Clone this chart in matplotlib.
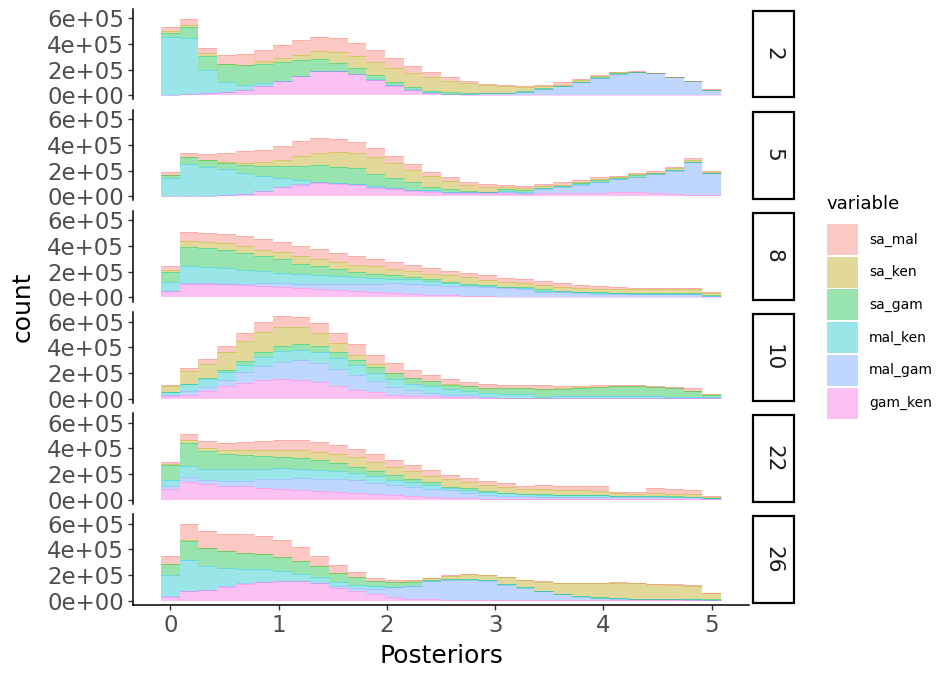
import matplotlib
matplotlib.use("Agg")
import matplotlib.pyplot as plt
from matplotlib.patches import Rectangle
import numpy as np

# bins: 30 bins centred on 0 .. 5 (ggplot default bins=30)
n_bins = 30
x_min, x_max = 0.0, 5.0

facets = ["2", "5", "8", "10", "22", "26"]
variables = ["sa_mal", "sa_ken", "sa_gam", "mal_ken", "mal_gam", "gam_ken"]
colors = {"sa_mal": "#F8766D", "sa_ken": "#B79F00", "sa_gam": "#00BA38",
          "mal_ken": "#00BFC4", "mal_gam": "#619CFF", "gam_ken": "#F564E3"}

# counts per bin, in units of 1e5
panel_2 = {
    "gam_ken": [0.03, 0.08, 0.16, 0.23, 0.39, 0.70, 1.09, 1.48, 1.87, 1.87, 1.64, 1.17, 0.75, 0.39, 0.21, 0.08, 0.03, 0.01, 0.02, 0.02, 0.02, 0.02, 0.02, 0.02, 0.02, 0.02, 0.02, 0.02, 0.02, 0.02],
    "mal_gam": [0, 0, 0, 0, 0, 0.03, 0.03, 0.05, 0.03, 0, 0.03, 0.03, 0.03, 0.03, 0, 0.03, 0.05, 0.13, 0.16, 0.20, 0.47, 0.70, 1.01, 1.32, 1.64, 1.77, 1.69, 1.40, 1.06, 0.36],
    "mal_ken": [4.49, 4.36, 1.79, 0.81, 0.42, 0.21, 0, 0, 0, 0, 0, 0.08, 0.03, 0.05, 0.08, 0, 0.03, 0.03, 0.03, 0.03, 0.03, 0.02, 0.03, 0, 0, 0, 0, 0.03, 0.03, 0.03],
    "sa_gam": [0.34, 0.88, 1.14, 1.38, 1.53, 1.48, 1.45, 1.19, 0.91, 0.65, 0.47, 0.29, 0.23, 0.16, 0.05, 0.13, 0.05, 0, 0, 0.10, 0.03, 0, 0, 0.05, 0.05, 0, 0.05, 0, 0, 0],
    "sa_ken": [0.15, 0.18, 0.18, 0.02, 0.03, 0.29, 0.34, 0.44, 0.62, 0.83, 0.94, 1.04, 1.12, 1.12, 1.09, 0.91, 0.78, 0.65, 0.52, 0.31, 0.18, 0.08, 0.13, 0.10, 0.08, 0.05, 0, 0, 0, 0],
    "sa_mal": [0.31, 0.44, 0.42, 0.73, 0.86, 0.83, 1.01, 1.14, 1.12, 1.12, 1.01, 0.94, 0.78, 0.55, 0.39, 0.29, 0.18, 0.08, 0.10, 0.05, 0.10, 0.23, 0.10, 0.10, 0.05, 0.08, 0, 0, 0, 0.08],
}
panel_5 = {
    "gam_ken": [0.02, 0.02, 0.02, 0.08, 0.21, 0.44, 0.75, 0.91, 1.04, 0.96, 0.91, 0.68, 0.60, 0.44, 0.36, 0.29, 0.29, 0.29, 0.29, 0.21, 0.26, 0.26, 0.29, 0.29, 0.36, 0.36, 0.29, 0.21, 0.13, 0.10],
    "mal_gam": [0, 0, 0, 0, 0, 0, 0, 0.05, 0.08, 0.05, 0.05, 0.08, 0.03, 0.02, 0.03, 0.02, 0.03, 0.05, 0.08, 0.08, 0.34, 0.49, 0.62, 0.83, 0.96, 1.14, 1.48, 1.79, 2.55, 1.69],
    "mal_ken": [1.38, 2.49, 2.29, 2.05, 1.58, 1.12, 0.68, 0.34, 0, 0, 0, 0.03, 0.03, 0.02, 0.10, 0.05, 0.02, 0.02, 0.02, 0.03, 0.03, 0.03, 0.05, 0.03, 0.05, 0.03, 0, 0.03, 0.03, 0.05],
    "sa_gam": [0.26, 0.52, 0.49, 0.49, 0.62, 0.78, 0.91, 1.09, 1.35, 1.30, 1.22, 0.99, 0.75, 0.62, 0.26, 0.18, 0.05, 0, 0.15, 0.20, 0.03, 0, 0.08, 0.10, 0.05, 0.10, 0.03, 0.05, 0, 0],
    "sa_ken": [0.03, 0.05, 0.03, 0.08, 0.21, 0.36, 0.52, 0.73, 0.91, 1.17, 1.19, 1.30, 1.17, 0.94, 0.83, 0.65, 0.52, 0.39, 0.16, 0.13, 0.16, 0.13, 0.10, 0.10, 0.10, 0.08, 0, 0.13, 0.13, 0.08],
    "sa_mal": [0.23, 0.29, 0.47, 0.65, 0.88, 0.88, 1.04, 1.17, 1.14, 0.96, 0.83, 0.68, 0.55, 0.49, 0.31, 0.31, 0.18, 0.18, 0.16, 0.16, 0.13, 0.18, 0.10, 0.16, 0.10, 0.08, 0.18, 0.05, 0.13, 0.08],
}
panel_8 = {
    "gam_ken": [0.47, 1.06, 1.04, 1.04, 0.99, 0.88, 0.83, 0.70, 0.62, 0.55, 0.47, 0.39, 0.31, 0.26, 0.21, 0.16, 0.13, 0.08, 0.05, 0.03, 0.03, 0.03, 0.03, 0.03, 0.03, 0.03, 0.03, 0.03, 0.03, 0.03],
    "mal_gam": [0.02, 0.05, 0.05, 0.03, 0.08, 0.21, 0.26, 0.34, 0.42, 0.49, 0.57, 0.65, 0.78, 0.75, 0.75, 0.73, 0.73, 0.73, 0.68, 0.62, 0.42, 0.39, 0.29, 0.26, 0.26, 0.21, 0.21, 0.21, 0.21, 0.05],
    "mal_ken": [0.73, 1.32, 1.25, 1.22, 1.09, 0.94, 0.81, 0.75, 0.68, 0.60, 0.55, 0.44, 0.34, 0.39, 0.29, 0.26, 0.08, 0.08, 0.05, 0.05, 0.08, 0.05, 0.08, 0.05, 0.03, 0.05, 0.05, 0.05, 0.03, 0.03],
    "sa_gam": [0.73, 1.53, 1.53, 1.40, 1.30, 1.17, 1.06, 0.81, 0.70, 0.55, 0.36, 0.34, 0.29, 0.18, 0.18, 0.08, 0.13, 0.05, 0.05, 0.08, 0.10, 0.05, 0.05, 0.05, 0.03, 0.03, 0.03, 0.03, 0.05, 0.10],
    "sa_ken": [0.16, 0.42, 0.42, 0.52, 0.52, 0.52, 0.55, 0.65, 0.55, 0.57, 0.60, 0.60, 0.52, 0.49, 0.42, 0.49, 0.49, 0.44, 0.39, 0.31, 0.31, 0.29, 0.31, 0.29, 0.29, 0.36, 0.36, 0.36, 0.34, 0.10],
    "sa_mal": [0.36, 0.70, 0.73, 0.73, 0.81, 0.83, 0.81, 0.75, 0.81, 0.70, 0.68, 0.57, 0.49, 0.44, 0.44, 0.34, 0.34, 0.34, 0.29, 0.31, 0.31, 0.29, 0.18, 0.21, 0.18, 0.08, 0.08, 0.08, 0.08, 0.08],
}
panel_10 = {
    "gam_ken": [0.18, 0.31, 0.62, 0.94, 1.22, 1.45, 1.53, 1.43, 1.25, 0.96, 0.70, 0.52, 0.31, 0.23, 0.16, 0.10, 0.08, 0.03, 0.03, 0.03, 0.02, 0.02, 0.02, 0.02, 0.02, 0.02, 0.02, 0.02, 0.02, 0.02],
    "mal_gam": [0.13, 0.29, 0.31, 0.52, 0.81, 1.06, 1.32, 1.56, 1.53, 1.38, 1.12, 0.81, 0.62, 0.42, 0.26, 0.21, 0.16, 0.05, 0.03, 0.03, 0.03, 0.03, 0.03, 0.03, 0.03, 0.03, 0.03, 0.03, 0.03, 0.03],
    "mal_ken": [0.16, 0.52, 0.60, 0.57, 0.62, 0.75, 0.86, 0.78, 0.81, 0.81, 0.78, 0.68, 0.60, 0.47, 0.52, 0.42, 0.34, 0.36, 0.31, 0.26, 0.08, 0.11, 0.18, 0.11, 0.11, 0.11, 0.11, 0.05, 0.05, 0.05],
    "sa_gam": [0.03, 0.03, 0.05, 0.18, 0.26, 0.36, 0.42, 0.47, 0.49, 0.47, 0.44, 0.47, 0.44, 0.47, 0.39, 0.36, 0.36, 0.36, 0.42, 0.47, 0.60, 0.62, 0.58, 0.70, 0.80, 0.78, 0.72, 0.73, 0.50, 0.21],
    "sa_ken": [0.44, 0.96, 1.14, 1.40, 1.61, 1.58, 1.48, 1.30, 0.99, 0.70, 0.36, 0.18, 0.03, 0.03, 0.05, 0.03, 0.02, 0.02, 0.03, 0.03, 0.03, 0.03, 0.05, 0.02, 0.02, 0.02, 0.02, 0.02, 0.02, 0.02],
    "sa_mal": [0.13, 0.26, 0.34, 0.47, 0.60, 0.73, 0.81, 0.81, 0.81, 0.78, 0.83, 0.73, 0.75, 0.60, 0.44, 0.39, 0.29, 0.34, 0.21, 0.21, 0.29, 0.20, 0.15, 0.21, 0.11, 0.12, 0.08, 0.08, 0.18, 0.03],
}
panel_22 = {
    "gam_ken": [0.86, 1.40, 1.22, 1.09, 1.04, 0.94, 0.86, 0.78, 0.70, 0.62, 0.55, 0.47, 0.34, 0.26, 0.21, 0.16, 0.13, 0.08, 0.03, 0.03, 0.03, 0.03, 0.03, 0.03, 0.03, 0.03, 0.03, 0.03, 0.03, 0.02],
    "mal_gam": [0.23, 0.39, 0.29, 0.39, 0.44, 0.65, 0.75, 0.88, 0.94, 1.01, 0.96, 0.86, 0.81, 0.70, 0.62, 0.57, 0.42, 0.31, 0.26, 0.23, 0.21, 0.20, 0.18, 0.18, 0.18, 0.18, 0.18, 0.15, 0.15, 0.06],
    "mal_ken": [0.47, 0.81, 0.91, 0.88, 0.88, 0.83, 0.83, 0.75, 0.70, 0.62, 0.57, 0.49, 0.39, 0.44, 0.31, 0.21, 0.23, 0.23, 0.23, 0.18, 0.13, 0.13, 0.15, 0.13, 0.05, 0.05, 0.05, 0.03, 0.03, 0.02],
    "sa_gam": [1.14, 1.79, 1.40, 1.22, 1.09, 0.96, 0.88, 0.81, 0.73, 0.57, 0.49, 0.39, 0.36, 0.18, 0.21, 0.08, 0.10, 0.05, 0.03, 0.03, 0.05, 0.03, 0.03, 0.02, 0.05, 0.05, 0.05, 0.05, 0.02, 0.06],
    "sa_ken": [0.10, 0.29, 0.23, 0.29, 0.42, 0.49, 0.57, 0.68, 0.68, 0.73, 0.73, 0.70, 0.62, 0.68, 0.49, 0.60, 0.49, 0.49, 0.42, 0.39, 0.39, 0.34, 0.34, 0.34, 0.21, 0.13, 0.24, 0.18, 0.24, 0.07],
    "sa_mal": [0.16, 0.42, 0.49, 0.52, 0.60, 0.68, 0.73, 0.73, 0.75, 0.68, 0.62, 0.62, 0.55, 0.42, 0.44, 0.29, 0.29, 0.26, 0.29, 0.23, 0.29, 0.31, 0.31, 0.34, 0.10, 0.16, 0.33, 0.37, 0.26, 0.06],
}
panel_26 = {
    "gam_ken": [0.31, 0.73, 0.83, 1.09, 1.32, 1.43, 1.51, 1.51, 1.35, 1.01, 0.78, 0.52, 0.29, 0.16, 0.10, 0.05, 0.05, 0.05, 0.05, 0.03, 0.03, 0.02, 0.02, 0.02, 0.02, 0.02, 0.02, 0.02, 0.02, 0.02],
    "mal_gam": [0.03, 0.03, 0.03, 0.03, 0.03, 0.03, 0.03, 0.03, 0.03, 0.13, 0.21, 0.39, 0.78, 0.96, 1.40, 1.58, 1.58, 1.51, 1.19, 0.99, 0.70, 0.47, 0.29, 0.18, 0.15, 0.08, 0.08, 0.08, 0.06, 0.04],
    "mal_ken": [1.69, 2.42, 1.87, 1.40, 1.09, 0.99, 0.75, 0.55, 0.47, 0.34, 0.21, 0.23, 0.03, 0.05, 0.05, 0.03, 0.03, 0.03, 0.03, 0.03, 0.03, 0.03, 0.03, 0.03, 0.03, 0.02, 0.02, 0.02, 0.02, 0.02],
    "sa_gam": [0.81, 1.48, 1.35, 1.32, 1.25, 1.17, 1.09, 0.99, 0.83, 0.65, 0.62, 0.39, 0.34, 0.29, 0.08, 0.05, 0.03, 0.03, 0.03, 0.03, 0.03, 0.03, 0.03, 0.03, 0.03, 0.02, 0.02, 0.02, 0.02, 0.02],
    "sa_ken": [0.03, 0.05, 0.03, 0.03, 0.03, 0.03, 0.03, 0.03, 0.03, 0.03, 0.03, 0.03, 0.05, 0.10, 0.10, 0.23, 0.36, 0.36, 0.52, 0.52, 0.68, 0.83, 1.01, 1.12, 1.17, 1.22, 1.14, 1.12, 1.04, 0.47],
    "sa_mal": [0.60, 1.27, 1.32, 1.35, 1.48, 1.40, 1.32, 1.09, 0.78, 0.62, 0.39, 0.23, 0.10, 0.08, 0.05, 0.05, 0.05, 0.05, 0.05, 0.05, 0.05, 0.03, 0.03, 0.03, 0.08, 0.05, 0.03, 0.03, 0.03, 0.03],
}
panels = [panel_2, panel_5, panel_8, panel_10, panel_22, panel_26]
unit = 1e5

bw = (x_max - x_min) / (n_bins - 1)
centers = x_min + bw * np.arange(n_bins)

# shared y scale, ggplot style 5% expansion
ymax = max(sum(np.array(p[v]) for v in variables).max() for p in panels) * unit
xlo, xhi = x_min - bw / 2, x_max + bw / 2
xpad = 0.05 * (xhi - xlo)

fig = plt.figure(figsize=(9.42, 6.73), dpi=100)
axes = fig.subplots(len(facets), 1, sharex=True, sharey=True)
fig.subplots_adjust(left=133 / 942, right=749 / 942, top=1 - 8.8 / 673,
                    bottom=1 - 604.8 / 673, hspace=0.116)

for ax, facet, data in zip(axes, facets, panels):
    bottom = np.zeros(n_bins)
    for v in variables[::-1]:
        vals = np.array(data[v]) * unit
        ax.bar(centers, vals, width=bw, bottom=bottom, color=colors[v],
               alpha=0.4, linewidth=0)
        ax.hlines(bottom + vals, centers - bw / 2, centers + bw / 2,
                  colors=colors[v], linewidth=0.5, alpha=0.45)
        bottom = bottom + vals

    ax.set_xlim(xlo - xpad, xhi + xpad)
    ax.set_ylim(-0.05 * ymax, 1.05 * ymax)
    ax.set_yticks([0, 2e5, 4e5, 6e5])
    ax.set_yticklabels([f"{t:.0e}" for t in [0, 2e5, 4e5, 6e5]])
    for s in ["top", "right"]:
        ax.spines[s].set_visible(False)
    ax.spines["left"].set_linewidth(1.1)
    ax.spines["bottom"].set_linewidth(1.1)
    ax.tick_params(axis="y", labelsize=16.5, labelcolor="#4D4D4D",
                   length=3.5, width=1, color="#333333", pad=3)
    ax.tick_params(axis="x", labelsize=16.5, labelcolor="#4D4D4D",
                   length=3.5, width=1, color="#333333", pad=3)

    # facet strip
    ax.add_patch(Rectangle((1.0057, 0.021), 0.0666, 0.955, transform=ax.transAxes,
                           facecolor="white", edgecolor="black", linewidth=1.6,
                           clip_on=False))
    ax.text(1.0057 + 0.0333, 0.5, facet, transform=ax.transAxes, rotation=-90,
            ha="center", va="center", fontsize=15.5, color="#1A1A1A")

for ax in axes[:-1]:
    ax.spines["bottom"].set_visible(False)
    ax.tick_params(axis="x", length=0, labelbottom=False)
axes[-1].set_xticks([0, 1, 2, 3, 4, 5])

fig.text(441 / 942, 1 - 656 / 673, "Posteriors", ha="center", va="center", fontsize=18)
fig.text(23 / 942, 1 - 307 / 673, "count", ha="center", va="center",
         rotation=90, fontsize=18)

# legend
fig.text(826 / 942, 1 - 204 / 673, "variable", ha="left", va="center", fontsize=13)
for i, v in enumerate(variables):
    top = 224 + i * 32.7
    fig.patches.append(Rectangle((827 / 942, 1 - (top + 31) / 673), 31 / 942, 31 / 673,
                                 transform=fig.transFigure, facecolor=colors[v],
                                 alpha=0.4, linewidth=0))
    fig.text(869 / 942, 1 - (top + 15.5) / 673, v, ha="left", va="center", fontsize=10)

fig.savefig("out.png", dpi=100)
plt.close(fig)
